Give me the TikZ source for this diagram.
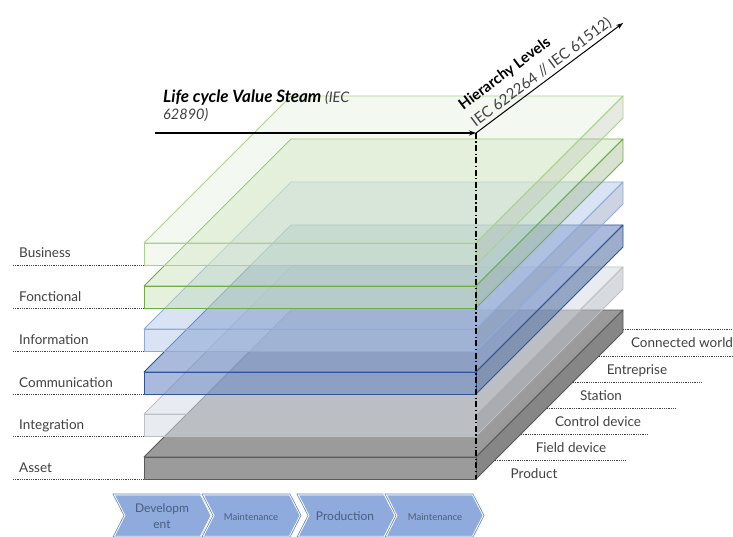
\documentclass[tikz,border=0pt]{standalone}
\usepackage{fontspec}
\setmainfont{Lato}
\usetikzlibrary{arrows.meta}
\definecolor{busF}{HTML}{E2EFDA}
\definecolor{busE}{HTML}{A9D18E}
\definecolor{fonF}{HTML}{C5E0B4}
\definecolor{fonE}{HTML}{70AD47}
\definecolor{infF}{HTML}{B4C7E7}
\definecolor{infE}{HTML}{8FAADC}
\definecolor{comF}{HTML}{6F8CC4}
\definecolor{comE}{HTML}{2F5597}
\definecolor{intF}{HTML}{D6DCE5}
\definecolor{intE}{HTML}{BFBFBF}
\definecolor{assF}{HTML}{969696}
\definecolor{assE}{HTML}{595959}
\definecolor{chevF}{HTML}{8FAADC}
\definecolor{chevE}{HTML}{5B7FC8}
\definecolor{chevT}{HTML}{4A5D7E}
\definecolor{txt}{HTML}{404040}
\newcommand\slabdraw[4]{%
  \pgfmathsetmacro\sbot{#1+22}%
  \pgfmathsetmacro\sbt{#1-147}%
  \pgfmathsetmacro\sbb{#1-125}%
  \filldraw[fill=#2, fill opacity=#4, draw=#3, line width=0.8pt, line join=round]
    (144,#1) -- (291,\sbt) -- (623,\sbt) -- (476,#1) -- cycle;
  \filldraw[fill=#2!85!black, fill opacity=#4, draw=#3, line width=0.8pt, line join=round]
    (476,#1) -- (623,\sbt) -- (623,\sbb) -- (476,\sbot) -- cycle;
  \filldraw[fill=#2, fill opacity=#4, draw=#3, line width=0.8pt, line join=round]
    (144,#1) -- (476,#1) -- (476,\sbot) -- (144,\sbot) -- cycle;
}
\tikzset{
  lbl/.style={font=\fontsize{13.5}{16}\selectfont, text=txt, inner sep=0pt},
  guide/.style={draw=black!75, line width=0.6pt, dash pattern=on 1pt off 0.8pt},
  chevw/.style={fill=chevF, draw=white, line width=2.5pt, line join=miter},
  chev/.style={draw=chevE, line width=0.6pt, line join=miter},
  chevtxt/.style={text=chevT, align=center, inner sep=0pt},
  mainarrow/.style={line width=1.2pt, -{Stealth[length=7pt,width=5pt]}},
}
\begin{document}
\begin{tikzpicture}[x=1pt,y=-1pt]
\useasboundingbox (0,0) rectangle (733,537);
% slabs bottom to top
\slabdraw{457}{assF}{assE}{0.95}
\slabdraw{414}{intF}{intE}{0.55}
\slabdraw{372}{comF}{comE}{0.6}
\slabdraw{329}{infF}{infE}{0.5}
\slabdraw{286}{fonF}{fonE}{0.45}
\slabdraw{243}{busF}{busE}{0.4}
% left labels
\foreach \n/\y/\id in {Business/265/bus, Fonctional/308/fon, Information/351/inf, Communication/394/com, Integration/436/int, Asset/479/ass}{
  \node[lbl, anchor=base west] (l\id) at (19,\y-7) {\n};
  \coordinate (gl\id) at (13,\y);
  \coordinate (gr\id) at (144,\y);
  \draw[guide] (gl\id) -- (gr\id);
}
% right labels
\foreach \n/\y/\xe/\cx/\id in {Connected world/329/733/682/cw, Entreprise/356/733/637/en, Station/382/702/601/st, Control device/408/676/598/cd, Field device/434/648/571/fd, Product/460/626/534/pr}{
  \pgfmathsetmacro\xs{min(623,476+479-\y)}
  \coordinate (ra\id) at (\xs,\y);
  \coordinate (rb\id) at (\xe,\y);
  \draw[guide] (ra\id) -- (rb\id);
  \node[lbl, anchor=base] (r\id) at (\cx,\y+18.5) {\n};
}
% axes
\coordinate (o) at (476,133);
\coordinate (hs) at (155,133);
\coordinate (he) at (623,23);
\coordinate (vb) at (476,479);
\draw[line width=1.2pt, dash pattern=on 6pt off 2.5pt on 1.2pt off 2.5pt] (o) -- (vb);
\draw[mainarrow] (hs) -- (o);
\draw[line width=1pt, -{Stealth[length=7pt,width=5pt]}] (o) -- (he)
  node[pos=0, sloped, anchor=south west, align=left, inner sep=2pt, xshift=1pt,
       font=\fontsize{15}{18}\selectfont, text=black]
  (hier) {\textbf{Hierarchy Levels}\\[3pt]{\color{txt}IEC 622264 // IEC 61512)}};
\node[anchor=north west, align=left, inner sep=0pt, font=\fontsize{14.5}{17}\selectfont]
  (title) at (163,90) {{\fontsize{17}{17}\selectfont\textbf{\textit{Life cycle Value Steam}}} {\color{txt}\textit{(IEC}}\\{\color{txt}\textit{62890)}}};
% chevrons
\foreach \x in {113,202,297,385}{
  \filldraw[chevw] (\x,494) -- ++(88,0) -- ++(11,21.5) -- ++(-11,21.5) -- ++(-88,0) -- ++(11,-21.5) -- cycle;
  \draw[chev] (\x,494) -- ++(88,0) -- ++(11,21.5) -- ++(-11,21.5) -- ++(-88,0) -- ++(11,-21.5) -- cycle;
}
\node[chevtxt, font=\fontsize{12}{16}\selectfont] (c1) at (162,516) {Developm\\ent};
\node[chevtxt, font=\fontsize{9.5}{11}\selectfont] (c2) at (251,517) {Maintenance};
\node[chevtxt, font=\fontsize{12}{13}\selectfont] (c3) at (345,516) {Production};
\node[chevtxt, font=\fontsize{9.5}{11}\selectfont] (c4) at (435,517) {Maintenance};
\end{tikzpicture}
\end{document}
